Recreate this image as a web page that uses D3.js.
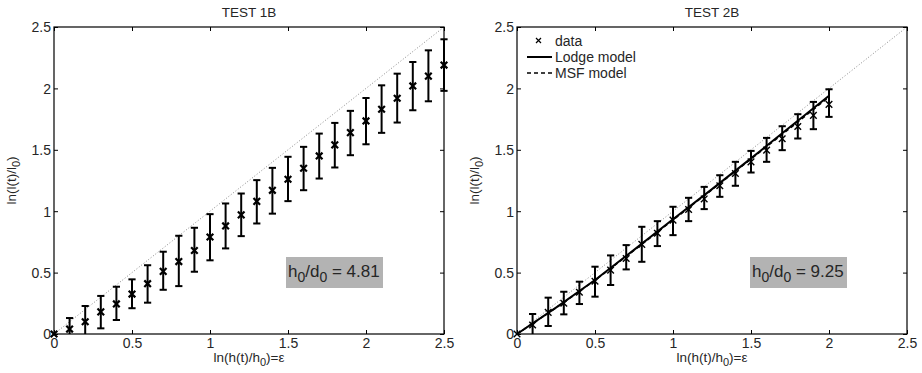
<!DOCTYPE html>
<html><head><meta charset="utf-8">
<script src="https://cdn.jsdelivr.net/npm/d3@7"></script>
<style>body{margin:0;background:#fff;} text{font-family:"Liberation Sans",Arial,sans-serif;}</style>
</head><body><svg id="c" width="922" height="373"></svg>
<script>
// ---- data ----
const axisTicks = [0, 0.5, 1, 1.5, 2, 2.5];
const axisTickLabels = ["0", "0.5", "1", "1.5", "2", "2.5"];

const test1X = [0,0.1,0.2,0.3,0.4,0.5,0.6,0.7,0.8,0.9,1.0,1.1,1.2,1.3,1.4,1.5,1.6,1.7,1.8,1.9,2.0,2.1,2.2,2.3,2.4,2.5];
const test1Y = [0,0.04,0.10,0.18,0.245,0.325,0.41,0.51,0.59,0.68,0.79,0.88,0.97,1.08,1.17,1.26,1.35,1.45,1.54,1.64,1.735,1.83,1.92,2.02,2.10,2.19];
const test1Hi = [0,0.13,0.228,0.31,0.385,0.445,0.56,0.67,0.80,0.865,0.976,1.063,1.144,1.253,1.353,1.443,1.524,1.632,1.719,1.817,1.922,2.025,2.12,2.215,2.31,2.40];
const test1Lo = [0,-0.03,-0.03,0.046,0.114,0.21,0.255,0.36,0.39,0.507,0.60,0.697,0.797,0.90,0.98,1.082,1.171,1.266,1.356,1.456,1.545,1.638,1.722,1.822,1.895,1.98];

const test2X = [0,0.1,0.2,0.3,0.4,0.5,0.6,0.7,0.8,0.9,1.0,1.1,1.2,1.3,1.4,1.5,1.6,1.7,1.8,1.9,2.0];
const test2Y = [0,0.073,0.176,0.25,0.34,0.43,0.52,0.615,0.73,0.82,0.927,1.014,1.10,1.207,1.307,1.402,1.497,1.59,1.69,1.78,1.87];
const test2Hi = [0,0.163,0.296,0.344,0.426,0.548,0.64,0.724,0.873,0.919,1.036,1.109,1.198,1.293,1.402,1.491,1.597,1.692,1.79,1.89,1.993];
const test2Lo = [0,-0.01,0.065,0.16,0.244,0.304,0.399,0.526,0.588,0.716,0.805,0.919,1.017,1.117,1.207,1.315,1.402,1.497,1.592,1.668,1.768];

const modelX = [0,0.25,0.5,0.75,1.0,1.25,1.5,1.75,2.0];
const lodgeY = [0,0.215,0.44,0.685,0.934,1.18,1.43,1.685,1.94];
const msfY   = [0,0.213,0.437,0.68,0.928,1.175,1.425,1.675,1.93];

const refLineX = [0, 2.5];
const refLineY = [0, 2.5];

const panels = [
  {title:"TEST 1B", x0:54, x1:444, xs:test1X, ys:test1Y, hi:test1Hi, lo:test1Lo, ratio:"4.81", box:[286,257,383,288], markerW:2.2, legend:false},
  {title:"TEST 2B", x0:517, x1:907, xs:test2X, ys:test2Y, hi:test2Hi, lo:test2Lo, ratio:"9.25", box:[750,257,847,288], markerW:1.4, legend:true}
];
const yTop = 27, yBot = 334;

const svg = d3.select("#c");

panels.forEach(p => {
  const x = d3.scaleLinear().domain([0,2.5]).range([p.x0,p.x1]);
  const y = d3.scaleLinear().domain([0,2.5]).range([yBot,yTop]);
  const g = svg.append("g");

  // reference dotted y=x
  g.append("line")
    .attr("x1", x(refLineX[0])).attr("y1", y(refLineY[0]))
    .attr("x2", x(refLineX[1])).attr("y2", y(refLineY[1]))
    .attr("stroke","#8a8a8a").attr("stroke-width",1).attr("stroke-dasharray","1,2");

  // model lines
  if (p.legend) {
    const line = d3.line().x(d=>x(d[0])).y(d=>y(d[1]));
    g.append("path").datum(modelX.map((v,i)=>[v,lodgeY[i]]))
      .attr("d",line).attr("fill","none").attr("stroke","#000").attr("stroke-width",2);
    g.append("path").datum(modelX.map((v,i)=>[v,msfY[i]]))
      .attr("d",line).attr("fill","none").attr("stroke","#000").attr("stroke-width",1.5).attr("stroke-dasharray","4,3");
  }

  // error bars
  const cap = 3.6;
  const yc = v => y(Math.max(v, 0));
  p.xs.forEach((xv,i) => {
    if (p.hi[i] === p.lo[i]) return;
    const cx = x(xv);
    g.append("line").attr("x1",cx).attr("x2",cx).attr("y1",yc(p.hi[i])).attr("y2",yc(p.lo[i]))
      .attr("stroke","#000").attr("stroke-width",2);
    g.append("line").attr("x1",cx-cap).attr("x2",cx+cap).attr("y1",y(p.hi[i])).attr("y2",y(p.hi[i]))
      .attr("stroke","#000").attr("stroke-width",2);
    if (p.lo[i] >= 0)
      g.append("line").attr("x1",cx-cap).attr("x2",cx+cap).attr("y1",y(p.lo[i])).attr("y2",y(p.lo[i]))
        .attr("stroke","#000").attr("stroke-width",2);
  });
  // x markers
  const ms = 3.3;
  p.xs.forEach((xv,i) => {
    const cx = x(xv), cy = y(p.ys[i]);
    g.append("path").attr("d",`M${cx-ms},${cy-ms}L${cx+ms},${cy+ms}M${cx-ms},${cy+ms}L${cx+ms},${cy-ms}`)
      .attr("stroke","#000").attr("stroke-width",p.markerW).attr("fill","none");
  });

  // frame
  g.append("rect").attr("x",p.x0).attr("y",yTop).attr("width",p.x1-p.x0).attr("height",yBot-yTop)
    .attr("fill","none").attr("stroke","#000").attr("stroke-width",1.2);

  // axes with inward ticks
  const tl = 4;
  const xb = g.append("g").attr("transform",`translate(0,${yBot})`)
    .call(d3.axisBottom(x).tickValues(axisTicks).tickFormat((d,i)=>axisTickLabels[i]).tickSizeInner(-tl).tickSizeOuter(0).tickPadding(8));
  const xt = g.append("g").attr("transform",`translate(0,${yTop})`)
    .call(d3.axisTop(x).tickValues(axisTicks).tickFormat("").tickSizeInner(-tl).tickSizeOuter(0));
  const yl = g.append("g").attr("transform",`translate(${p.x0},0)`)
    .call(d3.axisLeft(y).tickValues(axisTicks).tickFormat((d,i)=>axisTickLabels[i]).tickSizeInner(-tl).tickSizeOuter(0).tickPadding(3));
  const yr = g.append("g").attr("transform",`translate(${p.x1},0)`)
    .call(d3.axisRight(y).tickValues(axisTicks).tickFormat("").tickSizeInner(-tl).tickSizeOuter(0));
  [xb,xt,yl,yr].forEach(a => {
    a.select(".domain").remove();
    a.selectAll("line").attr("stroke","#000");
    a.selectAll("text").attr("font-size",14).attr("fill","#262626").attr("font-family","Liberation Sans, Arial, sans-serif");
  });
  xb.selectAll("text").attr("dy","0.45em");
  yl.selectAll("text").attr("dy","0.35em");

  // title
  const cxm = (p.x0+p.x1)/2;
  g.append("text").attr("x",cxm).attr("y",17).attr("text-anchor","middle")
    .attr("font-size",13.5).attr("fill","#262626").text(p.title);

  // x label
  const xlab = g.append("text").attr("x",cxm).attr("y",362).attr("text-anchor","middle")
    .attr("font-size",13.5).attr("fill","#262626");
  xlab.append("tspan").text("ln(h(t)/h");
  xlab.append("tspan").attr("dy",3.5).attr("font-size",11).text("0");
  xlab.append("tspan").attr("dy",-3.5).text(")=ε");

  // y label
  const ylab = g.append("text").attr("transform",`translate(${p.x0-38},${(yTop+yBot)/2}) rotate(-90)`)
    .attr("text-anchor","middle").attr("font-size",13.5).attr("fill","#262626");
  ylab.append("tspan").text("ln(l(t)/l");
  ylab.append("tspan").attr("dy",3.5).attr("font-size",11).text("0");
  ylab.append("tspan").attr("dy",-3.5).text(")");

  // annotation box
  const b = p.box;
  g.append("rect").attr("x",b[0]).attr("y",b[1]).attr("width",b[2]-b[0]).attr("height",b[3]-b[1]).attr("fill","#b3b3b3");
  const at = g.append("text").attr("x",b[0]+2).attr("y",b[1]+20).attr("font-size",17).attr("fill","#262626");
  at.append("tspan").text("h");
  at.append("tspan").attr("dy",5).attr("font-size",14).text("0");
  at.append("tspan").attr("dy",-5).text("/d");
  at.append("tspan").attr("dy",5).attr("font-size",14).text("0");
  at.append("tspan").attr("dy",-5).text(" = " + p.ratio);

  // legend
  if (p.legend) {
    const lx = p.x0 + 10, tx = p.x0 + 38;
    const rows = [41, 57, 73];
    g.append("path").attr("d",`M${p.x0+19},${rows[0]-3}l5,5M${p.x0+19},${rows[0]+2}l5,-5`).attr("stroke","#000").attr("stroke-width",1.2);
    g.append("line").attr("x1",lx).attr("x2",lx+25).attr("y1",rows[1]).attr("y2",rows[1]).attr("stroke","#000").attr("stroke-width",2);
    g.append("line").attr("x1",lx).attr("x2",lx+25).attr("y1",rows[2]).attr("y2",rows[2]).attr("stroke","#000").attr("stroke-width",1.5).attr("stroke-dasharray","4,3");
    const labs = ["data","Lodge model","MSF model"];
    labs.forEach((t,i)=> g.append("text").attr("x",tx).attr("y",rows[i]+5).attr("font-size",14).attr("fill","#262626").text(t));
  }
});
</script></body></html>
